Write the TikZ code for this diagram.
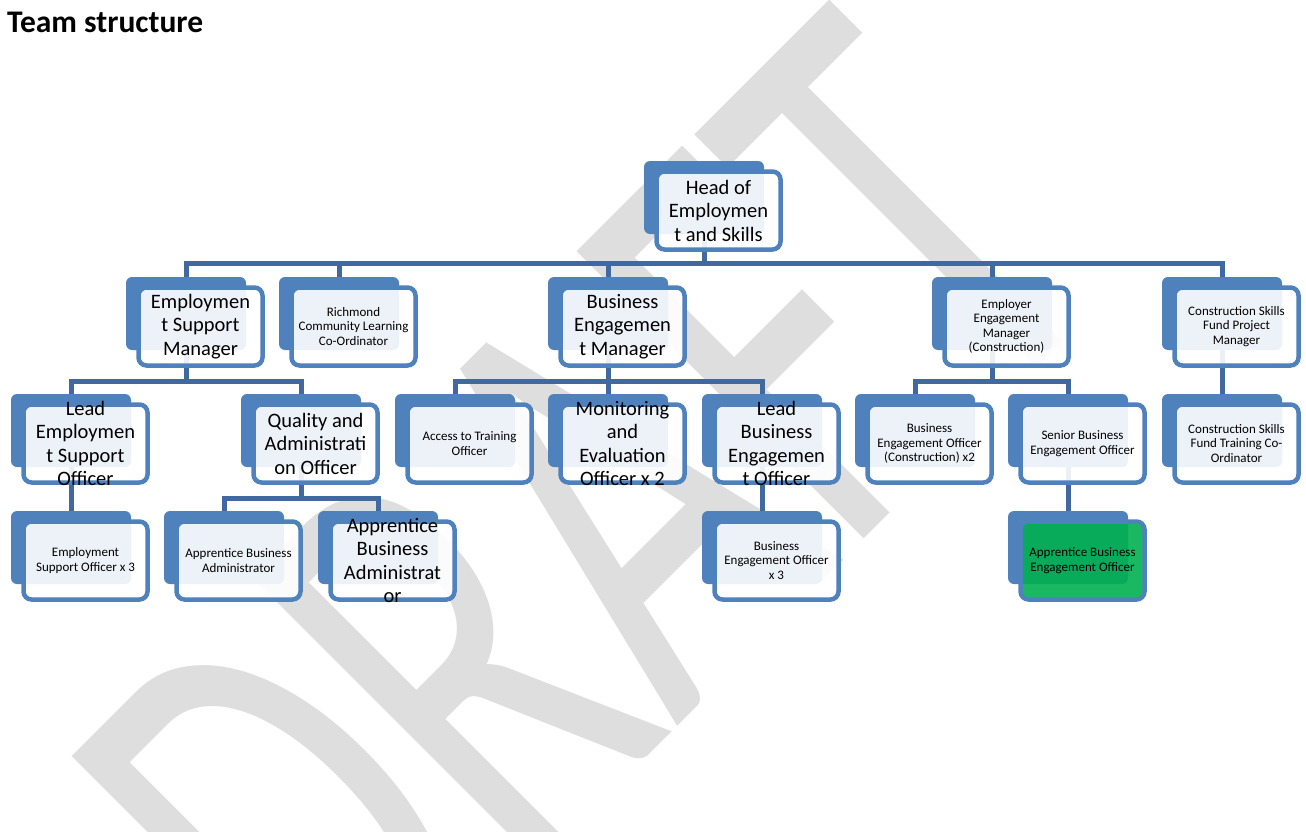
\documentclass[tikz,border=0pt]{standalone}
\usepackage{fontspec}
\setmainfont{Carlito}
\usepackage{graphicx}

\definecolor{boxblue}{RGB}{79,129,189}
\definecolor{linkblue}{RGB}{65,105,160}
\definecolor{boxgreen}{RGB}{0,176,80}
\definecolor{wmgray}{RGB}{222,222,222}

\newcommand{\bigtxt}{\fontsize{20.5}{23.5}\selectfont}
\newcommand{\smalltxt}{\fontsize{13}{14.3}\selectfont}

\begin{document}
\begin{tikzpicture}[x=1pt,y=-1pt,
                every node/.style={inner sep=0pt},
                backbox/.style={rectangle,rounded corners=6pt,fill=boxblue,minimum width=120pt,minimum height=73pt},
                frontbox/.style={rectangle,rounded corners=8pt,draw=boxblue,line width=4.5pt,fill opacity=0.9,minimum width=124pt,minimum height=78pt},
                link/.style={draw=linkblue,line width=5pt}]
  \useasboundingbox (0,0) rectangle (1306,832);
  \clip (0,0) rectangle (1306,832);

  % watermark and heading
  \node[text=wmgray,font=\fontsize{633}{633}\selectfont] (draft) at (586,530) {\rotatebox{45}{\scalebox{0.65}[1]{DRAFT}}};
  \node[anchor=base west,font=\fontsize{31.5}{36}\selectfont\bfseries] (title) at (7,33) {Team structure};

  % back plates
  \foreach \nm/\x/\y in {head/644/161, esm/126/277, rcl/279/277, bem/548/277, eem/932/277, csp/1162/277,
                         leso/11/394, qao/241/394, ato/395/394, meo/548/394, lbeo/702/394, beoc/855/394, sbeo/1008/394, cst/1162/394,
                         eso/11/511, aba/164/511, abb/318/511, beo/702/511, abeo/1008/511}
    \node[backbox] (\nm-b) at (\x+60,\y+36.5) {};

  % connectors
  \coordinate (bar0) at (0,263);
  \coordinate (bar1) at (0,381);
  \coordinate (bar2) at (0,498);
  \foreach \c in {esm,rcl,bem,eem,csp}
    \draw[link] (head-b.south) -- (head-b.south |- bar0) -| (\c-b.north);
  \foreach \c in {leso,qao}
    \draw[link] (esm-b.south) -- (esm-b.south |- bar1) -| (\c-b.north);
  \foreach \c in {ato,meo,lbeo}
    \draw[link] (bem-b.south) -- (bem-b.south |- bar1) -| (\c-b.north);
  \foreach \c in {beoc,sbeo}
    \draw[link] (eem-b.south) -- (eem-b.south |- bar1) -| (\c-b.north);
  \foreach \c in {aba,abb}
    \draw[link] (qao-b.south) -- (qao-b.south |- bar2) -| (\c-b.north);
  \draw[link] (csp-b.south) -- (cst-b.north);
  \draw[link] (leso-b.south) -- (eso-b.north);
  \draw[link] (lbeo-b.south) -- (beo-b.north);
  \draw[link] (sbeo-b.south) -- (abeo-b.north);

  % front cards with text
  \foreach \nm/\c/\f/\txt in {
      head/white/\bigtxt/{Head of\\Employmen\\t and Skills},
      esm/white/\bigtxt/{Employmen\\t Support\\Manager},
      rcl/white/\smalltxt/{Richmond\\Community Learning\\Co-Ordinator},
      bem/white/\bigtxt/{Business\\Engagemen\\t Manager},
      eem/white/\smalltxt/{Employer\\Engagement\\Manager\\(Construction)},
      csp/white/\smalltxt/{Construction Skills\\Fund Project\\Manager},
      leso/white/\bigtxt/{Lead\\Employmen\\t Support\\Officer},
      qao/white/\bigtxt/{Quality and\\Administrati\\on Officer},
      ato/white/\smalltxt/{Access to Training\\Officer},
      meo/white/\bigtxt/{Monitoring\\and\\Evaluation\\Officer x 2},
      lbeo/white/\bigtxt/{Lead\\Business\\Engagemen\\t Officer},
      beoc/white/\smalltxt/{Business\\Engagement Officer\\(Construction) x2},
      sbeo/white/\smalltxt/{Senior Business\\Engagement Officer},
      cst/white/\smalltxt/{Construction Skills\\Fund Training Co-\\Ordinator},
      eso/white/\smalltxt/{Employment\\Support Officer x 3},
      aba/white/\smalltxt/{Apprentice Business\\Administrator},
      abb/white/\bigtxt/{Apprentice\\Business\\Administrat\\or},
      beo/white/\smalltxt/{Business\\Engagement Officer\\x 3},
      abeo/boxgreen/\smalltxt/{Apprentice Business\\Engagement Officer}}
  {
    \node[frontbox,fill=\c] (\nm) at ([shift={(14.5,13)}]\nm-b) {};
    \node[font=\f,align=center] (\nm-t) at (\nm) {\txt};
  }
\end{tikzpicture}
\end{document}
